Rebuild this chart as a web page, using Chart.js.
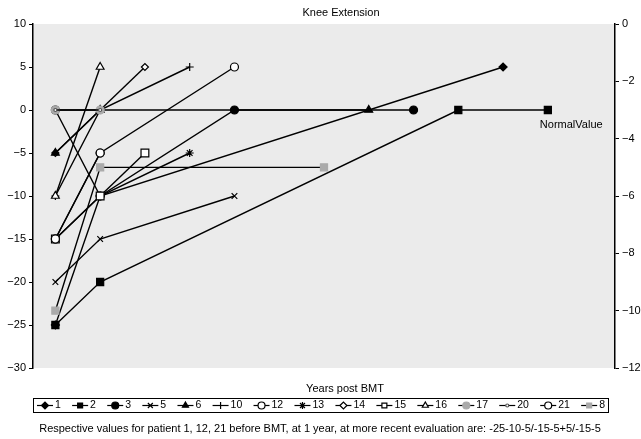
<!DOCTYPE html>
<html>
<head>
<meta charset="utf-8">
<script src="https://cdn.jsdelivr.net/npm/chart.js@4.4.0/dist/chart.umd.min.js"></script>
<style>
  html, body { margin: 0; padding: 0; background: #fff; }
</style>
</head>
<body>
<canvas id="kneeChart" width="641" height="439"></canvas>
<script>
// patients shown in the legend, in legend order
var patients = ['1', '2', '3', '5', '6', '10', '12', '13', '14', '15', '16', '17', '20', '21', '8'];

// years post BMT (x) and knee extension values (y) per patient
var p1Years = [0, 1, 10],     p1Vals = [-25, -10, 5];
var p2Years = [0, 1, 9, 11],  p2Vals = [-25, -20, 0, 0];
var p3Years = [0, 1, 4, 8],   p3Vals = [0, -10, 0, 0];
var p5Years = [0, 1, 4],      p5Vals = [-20, -15, -10];
var p6Years = [0, 1, 7],      p6Vals = [-5, 0, 0];
var p10Years = [0, 1, 3],     p10Vals = [-10, 0, 5];
var p12Years = [0, 1, 4],     p12Vals = [-15, -5, 5];
var p13Years = [0, 1, 3],     p13Vals = [-15, -10, -5];
var p14Years = [0, 1, 2],     p14Vals = [-5, 0, 5];
var p15Years = [0, 1, 2],     p15Vals = [-15, -10, -5];
var p16Years = [0, 1],        p16Vals = [-10, 5];
var p17Years = [0, 1],        p17Vals = [0, 0];
var p20Years = [0, 1],        p20Vals = [0, 0];
var p21Years = [0, 1],        p21Vals = [-15, -5];
// patient 8 is plotted against the right-hand axis
var p8Years = [0, 1, 6],      p8Vals = [-10, -5, -5];

var leftTicks = [10, 5, 0, -5, -10, -15, -20, -25, -30];
var rightTicks = [0, -2, -4, -6, -8, -10, -12];

var FONT = '"Liberation Sans", Arial, Helvetica, sans-serif';

// marker size per point style
var markerSize = { rect: 5, circle: 4, triangle: 4.5, rectRot: 4, cross: 4, crossRot: 4, star: 4 };

function pts(xs, ys) {
  return xs.map(function (x, i) { return { x: x, y: ys[i] }; });
}
function minus(v) {
  return String(v).replace('-', '\u2212');
}

var count = 0;
function series(label, xs, ys, style, fill, extra) {
  var ds = {
    label: label,
    data: pts(xs, ys),
    showLine: true,
    borderColor: '#000',
    borderWidth: 1.4,
    pointStyle: style,
    pointRadius: markerSize[style],
    pointBorderWidth: 1.2,
    pointBorderColor: '#000',
    pointBackgroundColor: fill,
    yAxisID: 'y',
    // later patients are drawn on top, like the original
    order: 100 - count++
  };
  if (extra) Object.assign(ds, extra);
  return ds;
}

var datasets = [
  series(patients[0], p1Years, p1Vals, 'rectRot', '#000'),
  series(patients[1], p2Years, p2Vals, 'rect', '#000'),
  series(patients[2], p3Years, p3Vals, 'circle', '#000'),
  series(patients[3], p5Years, p5Vals, 'crossRot', '#000'),
  series(patients[4], p6Years, p6Vals, 'triangle', '#000', { order: 91.5 }),
  series(patients[5], p10Years, p10Vals, 'cross', '#000'),
  series(patients[6], p12Years, p12Vals, 'circle', '#fff'),
  series(patients[7], p13Years, p13Vals, 'star', '#000'),
  series(patients[8], p14Years, p14Vals, 'rectRot', '#fff', { pointRadius: 3.5 }),
  series(patients[9], p15Years, p15Vals, 'rect', '#fff', { pointRadius: 5.5 }),
  series(patients[10], p16Years, p16Vals, 'triangle', '#fff'),
  series(patients[11], p17Years, p17Vals, 'circle', '#aaa', { pointBorderColor: '#aaa' }),
  series(patients[12], p20Years, p20Vals, 'circle', '#fff', { pointRadius: 1.5, pointBorderColor: '#555' }),
  series(patients[13], p21Years, p21Vals, 'circle', '#fff'),
  series(patients[14], p8Years, p8Vals, 'rect', '#aaa', { pointBorderColor: '#aaa', yAxisID: 'y1' })
];

// grey plot background
var plotBg = {
  id: 'plotBg',
  beforeDraw: function (chart) {
    var a = chart.chartArea, c = chart.ctx;
    c.save();
    c.fillStyle = '#ebebeb';
    c.fillRect(a.left, a.top, a.right - a.left, a.bottom - a.top);
    c.restore();
  }
};

// title, axis title, boxed legend, footnote
var extras = {
  id: 'extras',
  afterDraw: function (chart) {
    var c = chart.ctx;
    var xs = chart.scales.x, ys = chart.scales.y;
    c.save();
    c.fillStyle = '#000';
    c.textBaseline = 'middle';
    c.textAlign = 'center';
    c.font = '11px ' + FONT;
    c.fillText('Knee Extension', 341, 13);
    c.fillText('Years post BMT', 345, 389);

    c.textAlign = 'left';
    c.fillText('NormalValue', xs.getPixelForValue(11) - 8, ys.getPixelForValue(0) + 15);

    // legend
    var bx = 33, by = 398, bw = 575, bh = 14;
    c.strokeStyle = '#000';
    c.lineWidth = 1;
    c.strokeRect(bx + 0.5, by + 0.5, bw, bh);
    c.font = '10.5px ' + FONT;
    var sample = 16, gap = 2;
    var widths = chart.data.datasets.map(function (d) {
      return sample + gap + c.measureText(d.label).width;
    });
    var total = widths.reduce(function (s, w) { return s + w; }, 0);
    var space = (bw - 7 - total) / (widths.length - 1);
    var cx = bx + 4, cy = by + bh / 2 + 0.5;
    chart.data.datasets.forEach(function (d, i) {
      c.strokeStyle = '#000';
      c.lineWidth = 1.2;
      c.beginPath();
      c.moveTo(cx, cy);
      c.lineTo(cx + sample, cy);
      c.stroke();
      c.fillStyle = d.pointBackgroundColor;
      c.strokeStyle = d.pointBorderColor;
      Chart.helpers.drawPoint(c, {
        pointStyle: d.pointStyle,
        radius: Math.min(d.pointRadius, 3.5),
        rotation: 0,
        borderWidth: 1
      }, cx + sample / 2, cy);
      c.fillStyle = '#000';
      c.fillText(d.label, cx + sample + gap, cy);
      cx += widths[i] + space;
    });

    c.textAlign = 'center';
    c.font = '11px ' + FONT;
    c.fillText('Respective values for patient 1, 12, 21 before BMT, at 1 year, at more recent evaluation are: -25-10-5/-15-5+5/-15-5', 320, 429);
    c.restore();
  }
};

var ctx = document.getElementById('kneeChart').getContext('2d');
var chart = new Chart(ctx, {
  type: 'scatter',
  data: { datasets: datasets },
  options: {
    responsive: false,
    animation: false,
    layout: { padding: { top: 24, bottom: 71, left: 0, right: 0 } },
    plugins: {
      legend: { display: false },
      tooltip: { enabled: false },
      title: { display: false }
    },
    scales: {
      x: { type: 'linear', min: -0.5, max: 12.5, display: false },
      y: {
        position: 'left',
        min: -30,
        max: 10,
        afterBuildTicks: function (s) { s.ticks = leftTicks.map(function (v) { return { value: v }; }); },
        ticks: {
          color: '#000',
          font: { size: 11, family: FONT },
          padding: 3,
          callback: function (v) { return minus(v); }
        },
        grid: { drawOnChartArea: false, drawTicks: true, tickLength: 4, color: '#000' },
        border: { color: '#000', width: 1.5 },
        afterFit: function (s) { s.width = 33; }
      },
      y1: {
        position: 'right',
        min: -12,
        max: 0,
        afterBuildTicks: function (s) { s.ticks = rightTicks.map(function (v) { return { value: v }; }); },
        ticks: {
          color: '#000',
          font: { size: 11, family: FONT },
          padding: 3,
          callback: function (v) { return minus(v); }
        },
        grid: { drawOnChartArea: false, drawTicks: true, tickLength: 4, color: '#000' },
        border: { color: '#000', width: 1.5 },
        afterFit: function (s) { s.width = 26; }
      }
    }
  },
  plugins: [plotBg, extras]
});
</script>
</body>
</html>
